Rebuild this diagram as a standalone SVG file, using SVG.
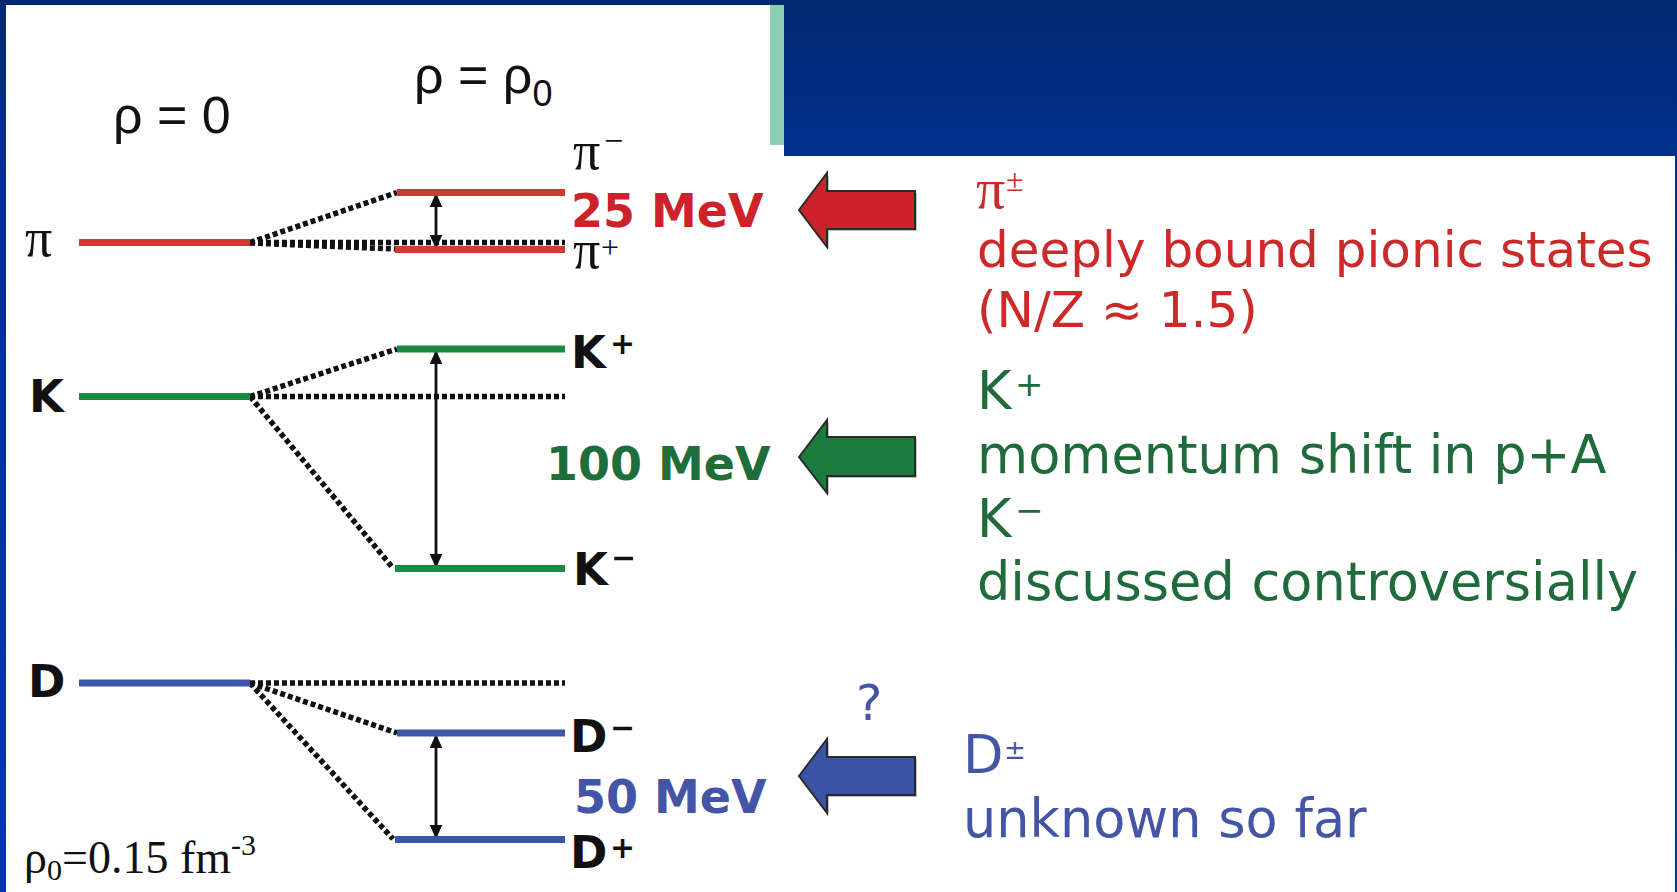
<svg xmlns="http://www.w3.org/2000/svg" width="1677" height="892" viewBox="0 0 1677 892">
<defs>
<linearGradient id="bg" x1="0" y1="0" x2="0" y2="1">
<stop offset="0" stop-color="#022870"/>
<stop offset="0.18" stop-color="#00318f"/>
<stop offset="1" stop-color="#0038a8"/>
</linearGradient>
<marker id="ah" viewBox="0 0 10 10" refX="10" refY="5" markerWidth="5" markerHeight="5" orient="auto-start-reverse" markerUnits="strokeWidth">
<path d="M0,0.5 L10,5 L0,9.5 z" fill="#111"/>
</marker>
<style>
.lvl{stroke-width:7;fill:none}
.red{stroke:#cf3a32}
.grn{stroke:#178a44}
.blu{stroke:#3d55a8}
.dot{stroke:#111;stroke-width:5.5;stroke-dasharray:5 3;fill:none}
.dbl{stroke:#111;stroke-width:2.8;fill:none;marker-start:url(#ah);marker-end:url(#ah)}
.bold{font-family:"DejaVu Sans",Verdana,sans-serif;font-weight:bold}
.sans{font-family:"DejaVu Sans",Verdana,sans-serif}
.serif{font-family:"Liberation Serif","Times New Roman",serif}
.arial{font-family:"Liberation Sans",Arial,sans-serif}
.blk{stroke:#2a2a2a;stroke-width:2;stroke-linejoin:miter}
</style>
</defs>
<rect x="0" y="0" width="1677" height="892" fill="url(#bg)"/>
<path d="M6,5 H784 V156 H1675 V892 H6 Z" fill="#ffffff"/>
<rect x="770" y="5" width="14" height="140" fill="#8ecfb2"/>

<g id="headings">
<text class="arial" x="113" y="133" font-size="52" fill="#111">ρ = 0</text>
<text class="arial" x="414" y="93" font-size="52" fill="#111">ρ = ρ<tspan font-size="36" dy="13">0</tspan></text>
</g>

<g id="connectors">
<line class="dot" x1="250" y1="242.5" x2="397" y2="192.5"/>
<line class="dot" x1="250" y1="242.5" x2="565" y2="242.5"/>
<line class="dot" x1="250" y1="243" x2="395" y2="249"/>
<line class="dot" x1="250" y1="396.5" x2="397" y2="349"/>
<line class="dot" x1="250" y1="396.5" x2="565" y2="396.5"/>
<line class="dot" x1="250" y1="396.5" x2="393" y2="568"/>
<line class="dot" x1="250" y1="683" x2="565" y2="683"/>
<line class="dot" x1="250" y1="683" x2="397" y2="733"/>
<line class="dot" x1="250" y1="683" x2="393" y2="839"/>
<line class="dbl" x1="436" y1="193" x2="436" y2="249"/>
<line class="dbl" x1="436" y1="350" x2="436" y2="568"/>
<line class="dbl" x1="436" y1="734" x2="436" y2="839"/>
<g id="arrow-red">
<polygon points="801,212 829,175 829,193 917,193 917,231 829,231 829,249" fill="#000" opacity="0.25"/>
<polygon class="blk" points="799,210 827,173 827,191 915,191 915,229 827,229 827,247" fill="#cc2229"/>
</g>
<g id="arrow-green">
<polygon points="801,459 829,422 829,439 917,439 917,478 829,478 829,495" fill="#000" opacity="0.25"/>
<polygon class="blk" points="799,457 827,420 827,437 915,437 915,476 827,476 827,493" fill="#1b7a3e"/>
</g>
<g id="arrow-blue">
<polygon points="801,778 829,741 829,759 917,759 917,797 829,797 829,815" fill="#000" opacity="0.25"/>
<polygon class="blk" points="799,776 827,739 827,757 915,757 915,795 827,795 827,813" fill="#3a54a5"/>
</g>
</g>

<g id="pi-level">
<line class="lvl red" x1="79" y1="242.5" x2="250" y2="242.5"/>
<line class="lvl red" x1="397" y1="192.5" x2="565" y2="192.5"/>
<line class="lvl red" x1="395" y1="249.5" x2="565" y2="249.5"/>
<text class="serif" x="25" y="256" font-size="54" fill="#111">π</text>
<text class="serif" x="573" y="169" font-size="54" fill="#111">π<tspan font-size="34" x="604" y="152">−</tspan></text>
<text class="serif" x="573" y="268" font-size="54" fill="#111">π<tspan font-size="32" x="601" y="258">+</tspan></text>
<text class="bold" x="571" y="227" font-size="46" fill="#cc2229">25 MeV</text>
</g>

<g id="k-level">
<line class="lvl grn" x1="79" y1="396.5" x2="250" y2="396.5"/>
<line class="lvl grn" x1="397" y1="349" x2="565" y2="349"/>
<line class="lvl grn" x1="395" y1="568.5" x2="565" y2="568.5"/>
<text class="bold" x="29" y="412" font-size="45" fill="#111">K</text>
<text class="bold" x="571" y="368" font-size="45" fill="#111">K<tspan font-size="30" x="610" y="354">+</tspan></text>
<text class="bold" x="573" y="585" font-size="45" fill="#111">K<tspan font-size="30" x="611" y="568">−</tspan></text>
<text class="bold" x="546" y="480" font-size="46" fill="#1f6e3a">100 MeV</text>
</g>

<g id="d-level">
<line class="lvl blu" x1="79" y1="683" x2="250" y2="683"/>
<line class="lvl blu" x1="397" y1="733" x2="565" y2="733"/>
<line class="lvl blu" x1="395" y1="839.5" x2="565" y2="839.5"/>
<text class="bold" x="28" y="697" font-size="45" fill="#111">D</text>
<text class="bold" x="570" y="752" font-size="45" fill="#111">D<tspan font-size="30" x="610" y="738">−</tspan></text>
<text class="bold" x="570" y="868" font-size="45" fill="#111">D<tspan font-size="30" x="610" y="858">+</tspan></text>
<text class="bold" x="574" y="813" font-size="46" fill="#4455a8">50 MeV</text>
</g>

<g id="density-note">
<text class="serif" x="24" y="873" font-size="46" fill="#111">ρ<tspan font-size="30" dy="7">0</tspan><tspan dy="-7">=0.15 fm</tspan><tspan font-size="30" dy="-18">-3</tspan></text>
</g>

<g id="note-pi">
<text class="serif" x="976" y="208" font-size="58" fill="#cc2a2a">π<tspan font-size="32" x="1006" y="191">±</tspan></text>
<text class="sans" x="977" y="267" font-size="50" fill="#cc2a2a">deeply bound pionic states</text>
<text class="sans" x="977" y="327" font-size="50" fill="#cc2a2a">(N/Z ≈ 1.5)</text>
</g>

<g id="note-k">
<text class="sans" x="977" y="409" font-size="52.5" fill="#1f6b3c">K<tspan font-size="34" x="1015" y="396">+</tspan></text>
<text class="sans" x="977" y="473" font-size="52.5" fill="#1f6b3c">momentum shift in p+A</text>
<text class="sans" x="977" y="537" font-size="52.5" fill="#1f6b3c">K<tspan font-size="34" x="1015" y="522">−</tspan></text>
<text class="sans" x="977" y="600" font-size="52.5" fill="#1f6b3c">discussed controversially</text>
</g>

<g id="note-d">
<text class="sans" x="856" y="720" font-size="50" fill="#4455a5">?</text>
<text class="sans" x="963" y="773" font-size="52.5" fill="#4455a5">D<tspan font-size="26" x="1004" y="759">±</tspan></text>
<text class="sans" x="963" y="837" font-size="52.5" fill="#4455a5">unknown so far</text>
</g>
</svg>
